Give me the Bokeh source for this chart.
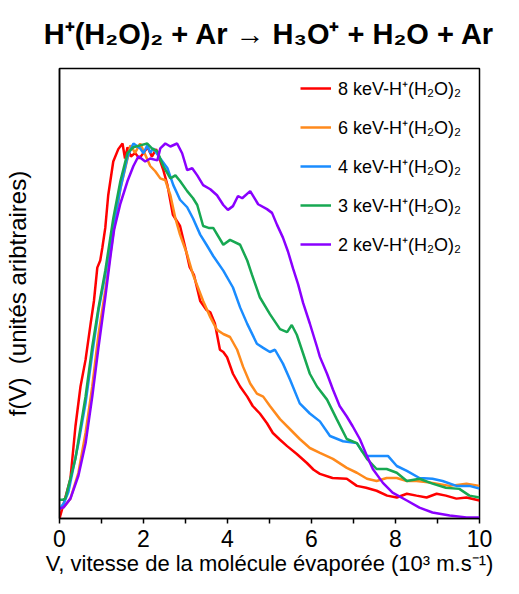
from bokeh.plotting import figure
from bokeh.models import FixedTicker, Range1d
from bokeh.embed import file_html
from bokeh.resources import INLINE

# ---- data (V in 10^3 m/s, f(V) arbitrary units) ----
v_8kev = [0, 0.1, 0.26, 0.38, 0.5, 0.62, 0.74, 0.82, 0.9, 0.97, 1.02, 1.09, 1.16, 1.28, 1.4, 1.5, 1.56, 1.62, 1.7, 1.8, 1.9, 2.0, 2.1, 2.2, 2.3, 2.38, 2.47, 2.57, 2.7, 2.87, 3.0, 3.1, 3.2, 3.35, 3.5, 3.59, 3.7, 3.82, 3.9, 3.99, 4.13, 4.3, 4.47, 4.6, 4.77, 4.94, 5.08, 5.25, 5.42, 5.65, 5.89, 6.05, 6.2, 6.5, 6.84, 7.08, 7.3, 7.55, 7.8, 8.03, 8.27, 8.5, 8.74, 8.98, 9.2, 9.45, 9.69, 10]
f_8kev = [0, 0.04, 0.106, 0.246, 0.352, 0.423, 0.519, 0.58, 0.669, 0.688, 0.722, 0.775, 0.862, 0.952, 0.985, 1.0, 0.96, 0.99, 0.965, 0.975, 0.96, 0.975, 0.99, 0.965, 0.985, 0.96, 0.93, 0.889, 0.81, 0.78, 0.72, 0.67, 0.65, 0.58, 0.556, 0.55, 0.52, 0.45, 0.444, 0.43, 0.386, 0.352, 0.325, 0.30, 0.28, 0.254, 0.228, 0.21, 0.193, 0.172, 0.148, 0.13, 0.119, 0.108, 0.106, 0.087, 0.082, 0.074, 0.061, 0.056, 0.066, 0.061, 0.056, 0.066, 0.061, 0.053, 0.056, 0.048]

v_6kev = [0, 0.1, 0.26, 0.45, 0.62, 0.78, 0.93, 1.09, 1.21, 1.28, 1.45, 1.62, 1.69, 1.8, 1.92, 2.05, 2.16, 2.28, 2.4, 2.52, 2.64, 2.76, 2.87, 3.04, 3.18, 3.42, 3.59, 3.75, 3.9, 4.06, 4.23, 4.37, 4.54, 4.7, 4.85, 5.01, 5.25, 5.49, 5.72, 5.96, 6.2, 6.51, 6.84, 7.08, 7.32, 7.55, 7.79, 8.03, 8.27, 8.5, 8.88, 9.29, 9.69, 10]
f_6kev = [0.026, 0.03, 0.053, 0.122, 0.228, 0.352, 0.492, 0.608, 0.704, 0.76, 0.88, 0.96, 0.995, 0.975, 1.0, 0.968, 0.94, 0.926, 0.907, 0.902, 0.862, 0.80, 0.757, 0.704, 0.65, 0.58, 0.537, 0.503, 0.492, 0.484, 0.45, 0.405, 0.36, 0.333, 0.325, 0.30, 0.265, 0.238, 0.212, 0.188, 0.175, 0.159, 0.135, 0.122, 0.106, 0.10, 0.108, 0.108, 0.10, 0.10, 0.095, 0.087, 0.093, 0.087]

v_4kev = [0, 0.1, 0.21, 0.45, 0.62, 0.78, 0.93, 1.09, 1.28, 1.45, 1.62, 1.76, 1.92, 2.0, 2.09, 2.16, 2.23, 2.4, 2.57, 2.71, 2.87, 3.04, 3.18, 3.35, 3.5, 3.66, 3.9, 4.13, 4.3, 4.47, 4.54, 4.7, 4.85, 5.01, 5.13, 5.32, 5.49, 5.72, 5.96, 6.2, 6.44, 6.75, 7.08, 7.2, 7.32, 7.55, 7.82, 8.03, 8.27, 8.57, 8.88, 9.12, 9.45, 9.76, 10]
f_4kev = [0.026, 0.04, 0.07, 0.2, 0.307, 0.44, 0.556, 0.65, 0.78, 0.88, 0.965, 1.0, 0.987, 0.974, 0.995, 0.975, 0.987, 0.96, 0.934, 0.889, 0.85, 0.83, 0.8, 0.757, 0.73, 0.70, 0.661, 0.616, 0.563, 0.519, 0.503, 0.466, 0.455, 0.444, 0.45, 0.413, 0.37, 0.307, 0.28, 0.259, 0.22, 0.206, 0.201, 0.18, 0.167, 0.167, 0.167, 0.14, 0.127, 0.108, 0.106, 0.10, 0.087, 0.087, 0.08]

v_3kev = [0, 0.08, 0.14, 0.38, 0.62, 0.78, 0.93, 1.09, 1.28, 1.45, 1.62, 1.76, 1.92, 2.09, 2.2, 2.33, 2.47, 2.64, 2.76, 2.87, 3.04, 3.18, 3.28, 3.42, 3.55, 3.66, 3.9, 4.06, 4.3, 4.47, 4.58, 4.77, 5.01, 5.25, 5.42, 5.53, 5.65, 5.8, 5.96, 6.13, 6.37, 6.6, 6.84, 7.08, 7.32, 7.55, 7.79, 8.03, 8.27, 8.57, 8.88, 9.2, 9.52, 9.76, 10]
f_3kev = [0.05, 0.05, 0.053, 0.16, 0.325, 0.458, 0.563, 0.661, 0.8, 0.9, 0.975, 0.99, 0.995, 1.0, 0.987, 0.979, 0.94, 0.907, 0.915, 0.9, 0.873, 0.854, 0.836, 0.78, 0.775, 0.775, 0.73, 0.743, 0.73, 0.688, 0.651, 0.59, 0.545, 0.505, 0.497, 0.516, 0.49, 0.44, 0.386, 0.352, 0.317, 0.265, 0.212, 0.201, 0.159, 0.132, 0.132, 0.122, 0.10, 0.106, 0.093, 0.082, 0.079, 0.061, 0.056]

v_2kev = [0, 0.1, 0.26, 0.45, 0.62, 0.78, 0.93, 1.09, 1.21, 1.3, 1.45, 1.62, 1.76, 1.88, 2.04, 2.16, 2.33, 2.4, 2.52, 2.64, 2.8, 2.92, 3.04, 3.16, 3.28, 3.42, 3.59, 3.75, 3.9, 4.01, 4.13, 4.25, 4.35, 4.54, 4.73, 4.94, 5.06, 5.18, 5.32, 5.44, 5.56, 5.68, 5.8, 5.96, 6.13, 6.2, 6.37, 6.51, 6.67, 6.84, 6.98, 7.15, 7.32, 7.46, 7.7, 7.93, 8.27, 8.57, 8.88, 9.29, 9.69, 10]
f_2kev = [0.026, 0.03, 0.053, 0.114, 0.2, 0.325, 0.458, 0.59, 0.696, 0.77, 0.84, 0.9, 0.94, 0.966, 0.952, 0.96, 0.955, 0.987, 1.0, 0.992, 1.0, 0.974, 0.929, 0.934, 0.915, 0.889, 0.878, 0.862, 0.836, 0.823, 0.833, 0.86, 0.854, 0.873, 0.838, 0.825, 0.815, 0.783, 0.749, 0.712, 0.667, 0.625, 0.575, 0.52, 0.458, 0.431, 0.386, 0.344, 0.30, 0.272, 0.246, 0.212, 0.167, 0.132, 0.095, 0.069, 0.048, 0.029, 0.016, 0.008, 0.003, 0.003]

series_labels = ["8 keV-H\u207a(H\u2082O)\u2082", "6 keV-H\u207a(H\u2082O)\u2082", "4 keV-H\u207a(H\u2082O)\u2082",
                 "3 keV-H\u207a(H\u2082O)\u2082", "2 keV-H\u207a(H\u2082O)\u2082"]
series_colors = ["#FF0000", "#FF8A1C", "#1A8CFF", "#17A852", "#8A00FF"]
x_ticks = [0, 2, 4, 6, 8, 10]
x_minor = [1, 3, 5, 7, 9]
title_text = "H\u207a(H\u2082O)\u2082 + Ar \u2192 H\u2083O\u207a + H\u2082O + Ar"
x_label_text = "V, vitesse de la mol\u00e9cule \u00e9vapor\u00e9e (10\u00b3 m.s\u207b\u00b9)"
y_label_text = "f(V)\u00a0\u00a0(unit\u00e9s aribtraires)"

FONT = "Liberation Sans"

p = figure(width=503, height=578, output_backend="svg", toolbar_location=None,
           x_range=Range1d(0, 10), y_range=Range1d(0, 1.2),
           min_border_left=58, min_border_right=24, min_border_top=68, min_border_bottom=56,
           title=title_text)

p.title.align = "center"
p.title.vertical_align = "top"
p.title.text_font = FONT
p.title.text_font_size = "29px"
p.title.text_font_style = "bold"
p.title.text_color = "black"
p.title.offset = 0
p.title.standoff = 33

data = [(v_8kev, f_8kev), (v_6kev, f_6kev), (v_4kev, f_4kev), (v_3kev, f_3kev), (v_2kev, f_2kev)]
for (vx, fy), lab, col in zip(data, series_labels, series_colors):
    p.line(vx, fy, line_color=col, line_width=2.5, legend_label=lab)

p.xgrid.visible = False
p.ygrid.visible = False
p.outline_line_color = "black"
p.outline_line_width = 1.5
p.outline_line_alpha = 1
p.background_fill_color = "white"
p.border_fill_color = "white"

xa = p.xaxis[0]
xa.ticker = FixedTicker(ticks=x_ticks, minor_ticks=x_minor)
xa.axis_line_color = "black"
xa.axis_line_width = 1.5
xa.major_tick_line_color = "black"
xa.minor_tick_line_color = "black"
xa.major_tick_line_width = 1.5
xa.minor_tick_line_width = 1.5
xa.major_tick_in = 0
xa.major_tick_out = 5
xa.minor_tick_in = 0
xa.minor_tick_out = 5
xa.major_label_text_font = FONT
xa.major_label_text_font_size = "23px"
xa.major_label_text_color = "black"
xa.major_label_standoff = 6
xa.axis_label = x_label_text
xa.axis_label_text_font = FONT
xa.axis_label_text_font_size = "22px"
xa.axis_label_text_font_style = "normal"
xa.axis_label_text_color = "black"
xa.axis_label_standoff = 1

ya = p.yaxis[0]
ya.ticker = FixedTicker(ticks=[])
ya.axis_line_color = "black"
ya.axis_line_width = 1.5
ya.major_tick_out = 0
ya.major_tick_in = 0
ya.minor_tick_out = 0
ya.minor_tick_in = 0
ya.major_label_text_font_size = "0px"
ya.axis_label = y_label_text
ya.axis_label_text_font = FONT
ya.axis_label_text_font_size = "24px"
ya.axis_label_text_font_style = "normal"
ya.axis_label_text_color = "black"
ya.axis_label_standoff = 29

lg = p.legend[0]
lg.location = "top_right"
lg.border_line_alpha = 0
lg.background_fill_alpha = 0
lg.label_text_font = FONT
lg.label_text_font_size = "18px"
lg.label_text_color = "black"
lg.glyph_width = 31
lg.glyph_height = 20
lg.label_height = 20
lg.label_width = 133
lg.label_standoff = 7
lg.spacing = 15
lg.padding = 0
lg.margin = 8

open("out.html", "w").write(file_html(p, INLINE))
